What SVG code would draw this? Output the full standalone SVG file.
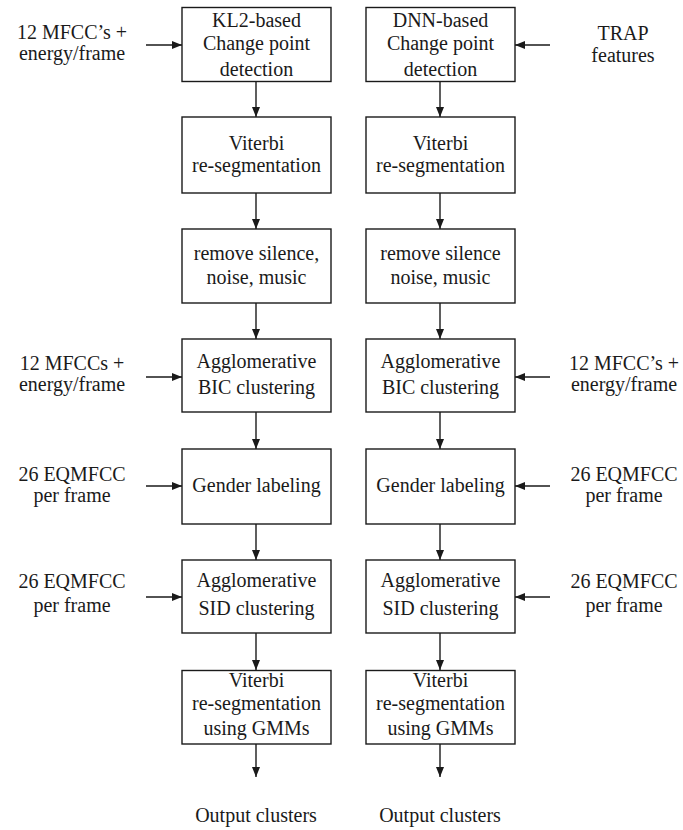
<svg xmlns="http://www.w3.org/2000/svg" width="683" height="830" viewBox="0 0 683 830">
<defs>
<marker id="ah" viewBox="0 0 10 8" refX="10" refY="4" markerWidth="10" markerHeight="8" markerUnits="userSpaceOnUse" orient="auto">
<path d="M0,0 L10,4 L0,8 Z" fill="#1a1a1a"/>
</marker>
<style>
rect{fill:#fff;stroke:#1a1a1a;stroke-width:1.4}
text{font-family:"Liberation Serif","Times New Roman",serif;font-size:20px;fill:#1a1a1a;text-anchor:middle}
.c line{stroke:#1a1a1a;stroke-width:1.4;marker-end:url(#ah)}
</style>
</defs>
<rect x="0" y="0" width="683" height="830" style="stroke:none"/>
<g class="c" id="connectors">
<line x1="256" y1="82" x2="256" y2="117"/>
<line x1="256" y1="193" x2="256" y2="229"/>
<line x1="256" y1="303" x2="256" y2="339"/>
<line x1="256" y1="412" x2="256" y2="449"/>
<line x1="256" y1="524" x2="256" y2="560"/>
<line x1="256" y1="633" x2="256" y2="670"/>
<line x1="256" y1="744" x2="256" y2="777"/>
<line x1="440" y1="82" x2="440" y2="117"/>
<line x1="440" y1="193" x2="440" y2="229"/>
<line x1="440" y1="303" x2="440" y2="339"/>
<line x1="440" y1="412" x2="440" y2="449"/>
<line x1="440" y1="524" x2="440" y2="560"/>
<line x1="440" y1="633" x2="440" y2="670"/>
<line x1="440" y1="744" x2="440" y2="777"/>
<line x1="146" y1="45" x2="182" y2="45"/>
<line x1="146" y1="377" x2="182" y2="377"/>
<line x1="146" y1="486" x2="182" y2="486"/>
<line x1="146" y1="597" x2="182" y2="597"/>
<line x1="550" y1="45" x2="515" y2="45"/>
<line x1="550" y1="377" x2="515" y2="377"/>
<line x1="550" y1="486" x2="515" y2="486"/>
<line x1="550" y1="597" x2="515" y2="597"/>
</g>
<g id="L1"><rect x="182" y="7.5" width="149" height="74"/><text x="256.5" y="27">KL2-based</text><text x="256.5" y="50">Change point</text><text x="256.5" y="76">detection</text></g>
<g id="L2"><rect x="182" y="117" width="149" height="76"/><text x="256.5" y="150">Viterbi</text><text x="256.5" y="172">re-segmentation</text></g>
<g id="L3"><rect x="182" y="229" width="149" height="74"/><text x="256.5" y="260">remove silence,</text><text x="256.5" y="284">noise, music</text></g>
<g id="L4"><rect x="182" y="339" width="149" height="73"/><text x="256.5" y="368">Agglomerative</text><text x="256.5" y="394">BIC clustering</text></g>
<g id="L5"><rect x="182" y="449" width="149" height="75"/><text x="256.5" y="492">Gender labeling</text></g>
<g id="L6"><rect x="182" y="560" width="149" height="73"/><text x="256.5" y="587">Agglomerative</text><text x="256.5" y="615">SID clustering</text></g>
<g id="L7"><rect x="182" y="670.5" width="149" height="73.5"/><text x="256.5" y="687">Viterbi</text><text x="256.5" y="710">re-segmentation</text><text x="256.5" y="735">using GMMs</text></g>
<g id="R1"><rect x="366" y="7.5" width="149" height="74"/><text x="440.5" y="27">DNN-based</text><text x="440.5" y="50">Change point</text><text x="440.5" y="76">detection</text></g>
<g id="R2"><rect x="366" y="117" width="149" height="76"/><text x="440.5" y="150">Viterbi</text><text x="440.5" y="172">re-segmentation</text></g>
<g id="R3"><rect x="366" y="229" width="149" height="74"/><text x="440.5" y="260">remove silence</text><text x="440.5" y="284">noise, music</text></g>
<g id="R4"><rect x="366" y="339" width="149" height="73"/><text x="440.5" y="368">Agglomerative</text><text x="440.5" y="394">BIC clustering</text></g>
<g id="R5"><rect x="366" y="449" width="149" height="75"/><text x="440.5" y="492">Gender labeling</text></g>
<g id="R6"><rect x="366" y="560" width="149" height="73"/><text x="440.5" y="587">Agglomerative</text><text x="440.5" y="615">SID clustering</text></g>
<g id="R7"><rect x="366" y="670.5" width="149" height="73.5"/><text x="440.5" y="687">Viterbi</text><text x="440.5" y="710">re-segmentation</text><text x="440.5" y="735">using GMMs</text></g>
<g id="in-L1"><text x="72" y="39">12 MFCC’s +</text><text x="72" y="60">energy/frame</text></g>
<g id="in-L4"><text x="72" y="370">12 MFCCs +</text><text x="72" y="391">energy/frame</text></g>
<g id="in-L5"><text x="72" y="481">26 EQMFCC</text><text x="72" y="502">per frame</text></g>
<g id="in-L6"><text x="72" y="588">26 EQMFCC</text><text x="72" y="612">per frame</text></g>
<g id="in-R1"><text x="623" y="40">TRAP</text><text x="623" y="62">features</text></g>
<g id="in-R4"><text x="624" y="370">12 MFCC’s +</text><text x="624" y="391">energy/frame</text></g>
<g id="in-R5"><text x="624" y="481">26 EQMFCC</text><text x="624" y="502">per frame</text></g>
<g id="in-R6"><text x="624" y="588">26 EQMFCC</text><text x="624" y="612">per frame</text></g>
<g id="out-L"><text x="256" y="822">Output clusters</text></g>
<g id="out-R"><text x="440" y="822">Output clusters</text></g>
</svg>
